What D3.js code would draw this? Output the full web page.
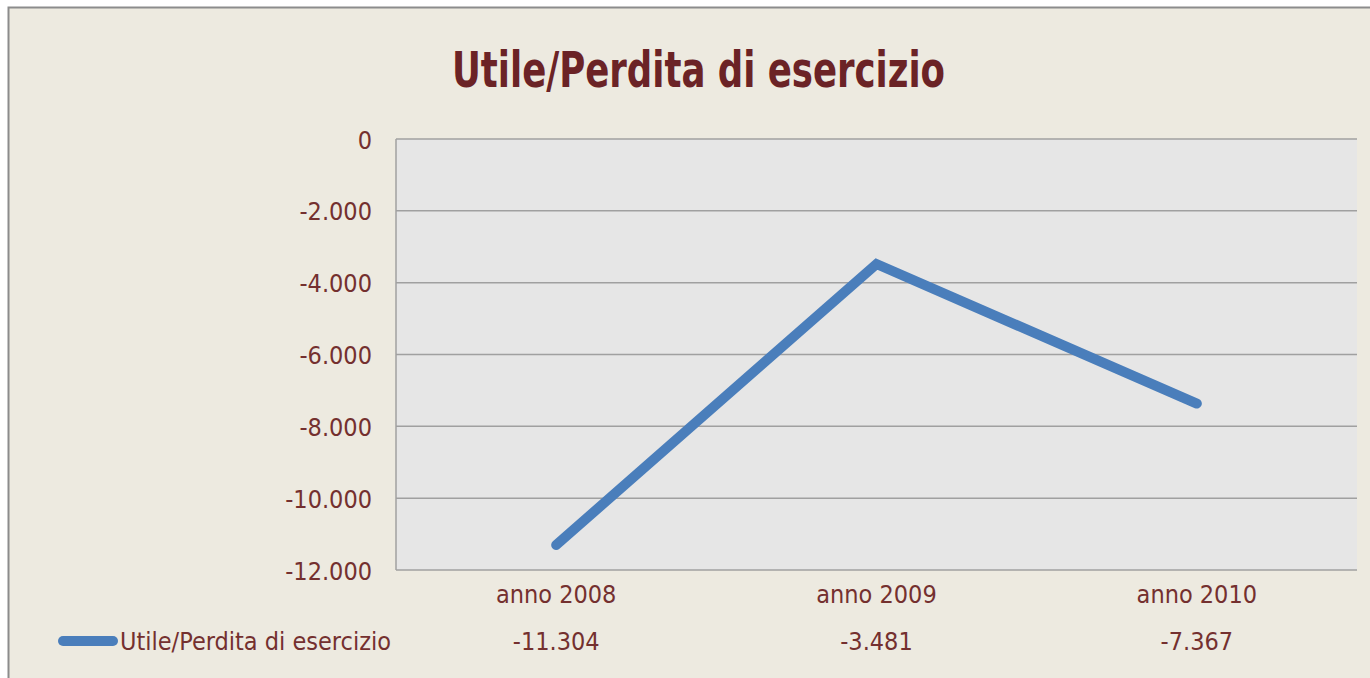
<!DOCTYPE html>
<html lang="it">
<head>
    <meta charset="utf-8">
    <title>Utile/Perdita di esercizio</title>
    <script src="https://d3js.org/d3.v7.min.js"></script>
    <style type="text/css">
        body {
            margin: 0;
            padding: 0;
            background: #fff;
            font-family: 'DejaVu Sans Condensed', sans-serif;
        }
        svg { display: block; }
        .axis path { display: none; }
        .axis line { display: none; }
        .axis text {
            fill: #74302f;
            font-size: 25px;
            font-family: 'DejaVu Sans Condensed', sans-serif;
        }
        line.grid-line {
            stroke: #a0a0a0;
            stroke-width: 1.5;
        }
    </style>
</head>
<body>
<svg></svg>
<script>
    // Daten
    var categorie = ["anno 2008", "anno 2009", "anno 2010"];
    var valori = [-11304, -3481, -7367];
    var etichetteValori = ["-11.304", "-3.481", "-7.367"];
    var ticksY = [0, -2000, -4000, -6000, -8000, -10000, -12000];
    var serieNome = "Utile/Perdita di esercizio";

    var W = 1370, H = 678;
    var blende = {top: 139, right: 13, bottom: 108, left: 396};
    var width = W - blende.left - blende.right,
        height = H - blende.top - blende.bottom;

    var root = d3.select("svg").attr("width", W).attr("height", H);

    // Rahmen / Hintergrund
    root.append("rect")
        .attr("x", 8.5).attr("y", 7.5)
        .attr("width", W + 10).attr("height", H + 10)
        .attr("fill", "#edeae0")
        .attr("stroke", "#8c8c8c")
        .attr("stroke-width", 2);

    // Titel
    root.append("text")
        .attr("x", 452).attr("y", 87)
        .attr("fill", "#6b2326")
        .attr("textLength", 493)
        .attr("lengthAdjust", "spacingAndGlyphs")
        .style("font-family", "'DejaVu Sans Condensed', sans-serif")
        .style("font-size", "50px")
        .style("font-weight", "bold")
        .text("Utile/Perdita di esercizio");

    var svg = root.append("g")
        .attr("transform", "translate(" + blende.left + "," + blende.top + ")");

    var y = d3.scaleLinear().domain([-12000, 0]).range([height, 0]);
    var x = d3.scaleBand().domain(categorie).range([0, width]);

    svg.append("rect")
        .attr("width", width).attr("height", height)
        .attr("fill", "#e6e6e6");

    // Gitternetz
    svg.selectAll("line.grid-line")
        .data(ticksY)
        .enter().append("line")
        .attr("class", "grid-line")
        .attr("x1", 0).attr("x2", width)
        .attr("y1", function (d) { return y(d); })
        .attr("y2", function (d) { return y(d); });

    svg.append("line")
        .attr("class", "grid-line")
        .attr("x1", 0).attr("x2", 0)
        .attr("y1", 0).attr("y2", height);

    var fmt = function (d) {
        return d3.format(",")(d).replace(/,/g, ".").replace("−", "-");
    };

    svg.append("g")
        .attr("class", "y axis")
        .call(d3.axisLeft(y).tickValues(ticksY).tickFormat(fmt).tickSize(0).tickPadding(24))
        .selectAll("text").attr("dy", "0.36em");

    svg.append("g")
        .attr("class", "x axis")
        .attr("transform", "translate(0," + height + ")")
        .call(d3.axisBottom(x).tickSize(0).tickPadding(15));

    // Linie
    var line = d3.line()
        .x(function (d, i) { return x(categorie[i]) + x.bandwidth() / 2; })
        .y(function (d) { return y(d); });

    svg.append("path")
        .datum(valori)
        .attr("fill", "none")
        .attr("stroke", "#4a7ebb")
        .attr("stroke-width", 10)
        .attr("stroke-linecap", "round")
        .attr("stroke-linejoin", "miter")
        .attr("d", line);

    // Legende / Datentabelle
    var legY = 641;
    root.append("line")
        .attr("x1", 63).attr("x2", 113)
        .attr("y1", legY).attr("y2", legY)
        .attr("stroke", "#4a7ebb")
        .attr("stroke-width", 10)
        .attr("stroke-linecap", "round");

    root.append("text")
        .attr("x", 120).attr("y", 650)
        .attr("fill", "#74302f")
        .style("font-size", "25px")
        .text(serieNome);

    root.selectAll("text.wert")
        .data(etichetteValori)
        .enter().append("text")
        .attr("class", "wert")
        .attr("x", function (d, i) { return blende.left + x(categorie[i]) + x.bandwidth() / 2; })
        .attr("y", 650)
        .attr("text-anchor", "middle")
        .attr("fill", "#74302f")
        .style("font-size", "25px")
        .text(function (d) { return d; });
</script>
</body>
</html>
